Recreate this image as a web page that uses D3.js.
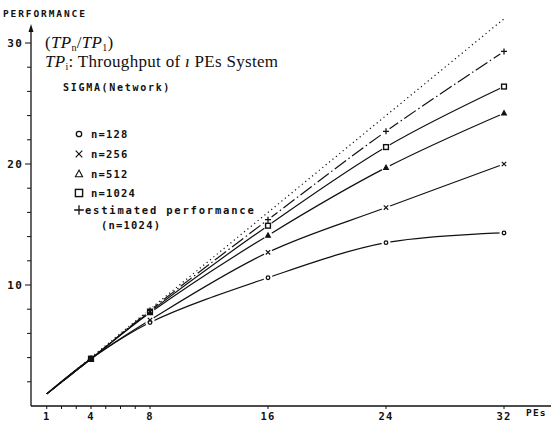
<!DOCTYPE html>
<html>
<head>
<meta charset="utf-8">
<script src="https://cdn.jsdelivr.net/npm/d3@7"></script>
<style>
  body { margin: 0; background: #fff; }
  .mono { font-family: "DejaVu Sans Mono", monospace; font-weight: bold; fill: #111; }
  .serif { font-family: "Liberation Serif", "DejaVu Serif", serif; fill: #111; }
</style>
</head>
<body>
<script>
const pes = [1, 4, 8, 16, 24, 32];
const n128 = [1, 3.9, 6.9, 10.6, 13.5, 14.3];
const n256 = [1, 3.9, 7.1, 12.7, 16.4, 20.0];
const n512 = [1, 3.9, 7.7, 14.1, 19.7, 24.2];
const n1024 = [1, 3.9, 7.8, 14.9, 21.4, 26.4];
const estimated = [1, 3.9, 7.9, 15.4, 22.7, 29.3];
const idealX = [1, 32];
const idealY = [1, 32];
const xTickLabels = [1, 4, 8, 16, 24, 32];
const xMinorTicks = [1, 2, 3, 4, 5, 6, 7, 8, 16, 24, 32];
const yTickLabels = [10, 20, 30];
const legendLabels = ["n=128", "n=256", "n=512", "n=1024", "estimated performance"];

const W = 552, H = 422;
const svg = d3.select("body").append("svg").attr("width", W).attr("height", H);

const x = d3.scaleLinear().domain([0, 32]).range([32, 504]);
const y = d3.scaleLinear().domain([0, 30]).range([406, 43]);

// axes
const ax = svg.append("g").attr("stroke", "#111").attr("stroke-width", 1.3);
ax.append("line").attr("x1", 31).attr("x2", 551).attr("y1", y(0)).attr("y2", y(0));
ax.append("line").attr("x1", 31).attr("x2", 31).attr("y1", y(0)).attr("y2", 28);
svg.append("path").attr("d", "M31,24 L28.5,32 L33.5,32 Z").attr("fill", "#111");

d3.range(2, 32, 2).forEach(v => {
  const major = v % 10 === 0;
  ax.append("line").attr("x1", major ? 25 : 27).attr("x2", 31)
    .attr("y1", y(v)).attr("y2", y(v)).attr("stroke-width", 1);
});
xMinorTicks.forEach(v => {
  ax.append("line").attr("x1", x(v)).attr("x2", x(v))
    .attr("y1", y(0)).attr("y2", y(0) + 3).attr("stroke-width", 1);
});

svg.selectAll(".ytl").data(yTickLabels).join("text")
  .attr("class", "mono").attr("x", 23).attr("y", d => y(d) + 4)
  .attr("text-anchor", "end").attr("font-size", 11).attr("letter-spacing", 1.2)
  .text(d => d);
svg.selectAll(".xtl").data(xTickLabels).join("text")
  .attr("class", "mono").attr("x", d => x(d)).attr("y", 420)
  .attr("text-anchor", "middle").attr("font-size", 10.5).attr("letter-spacing", 1.2)
  .text(d => d);
svg.append("text").attr("class", "mono").attr("x", 526).attr("y", 416)
  .attr("font-size", 9.5).attr("letter-spacing", 1.2).text("PEs");
svg.append("text").attr("class", "mono").attr("x", 3).attr("y", 17)
  .attr("font-size", 9.5).attr("letter-spacing", 1.9).text("PERFORMANCE");

// lines
const line = d3.line().x(d => x(d[0])).y(d => y(d[1])).curve(d3.curveCatmullRom.alpha(0.5));
const series = [
  { vals: n128, sym: "circle" },
  { vals: n256, sym: "x" },
  { vals: n512, sym: "tri" },
  { vals: n1024, sym: "sq" },
  { vals: estimated, sym: "plus", dash: "14,3,1.5,3" }
];
svg.append("path").attr("d", line(idealX.map((v, i) => [v, idealY[i]])))
  .attr("fill", "none").attr("stroke", "#111").attr("stroke-width", 1.2)
  .attr("stroke-dasharray", "1.2,3.2");
series.forEach(s => {
  svg.append("path").attr("d", line(pes.map((p, i) => [p, s.vals[i]])))
    .attr("fill", "none").attr("stroke", "#111").attr("stroke-width", 1.2)
    .attr("stroke-dasharray", s.dash || null);
});

// gaps around markers
series.forEach(s => {
  pes.forEach((p, i) => {
    if (p < 8) return;
    svg.append("circle").attr("cx", x(p)).attr("cy", y(s.vals[i])).attr("r", 4.5).attr("fill", "#fff");
  });
});

function marker(g, sym, cx, cy, size) {
  const k = size;
  if (sym === "circle") g.append("circle").attr("cx", cx).attr("cy", cy).attr("r", 1.8 * k)
    .attr("fill", "none").attr("stroke", "#111").attr("stroke-width", 1.3);
  if (sym === "x") g.append("path").attr("d", `M${cx - 2.2 * k},${cy - 2.2 * k}L${cx + 2.2 * k},${cy + 2.2 * k}M${cx + 2.2 * k},${cy - 2.2 * k}L${cx - 2.2 * k},${cy + 2.2 * k}`)
    .attr("stroke", "#111").attr("stroke-width", 1.2);
  if (sym === "tri") g.append("path").attr("d", `M${cx},${cy - 2.6 * k}L${cx + 2.4 * k},${cy + 1.8 * k}L${cx - 2.4 * k},${cy + 1.8 * k}Z`)
    .attr("fill", k > 1 ? "none" : "#111").attr("stroke", "#111").attr("stroke-width", 1.1);
  if (sym === "sq") g.append("rect").attr("x", cx - 2.4 * k).attr("y", cy - 2.4 * k)
    .attr("width", 4.8 * k).attr("height", 4.8 * k).attr("fill", "none").attr("stroke", "#111").attr("stroke-width", 1.4);
  if (sym === "plus") g.append("path").attr("d", `M${cx - 3 * k},${cy}L${cx + 3 * k},${cy}M${cx},${cy - 3 * k}L${cx},${cy + 3 * k}`)
    .attr("stroke", "#111").attr("stroke-width", 1.3);
}
const mk = svg.append("g");
series.forEach(s => {
  pes.forEach((p, i) => {
    if (p < 4) return;
    marker(mk, s.sym, x(p), y(s.vals[i]), 1);
  });
});
mk.append("rect").attr("x", x(4) - 3).attr("y", y(3.9) - 3).attr("width", 6).attr("height", 6).attr("fill", "#111");

// title
const t1 = svg.append("text").attr("class", "serif").attr("x", 45).attr("y", 48)
  .attr("font-size", 17).attr("letter-spacing", 0.3);
t1.append("tspan").text("(");
t1.append("tspan").attr("font-style", "italic").text("TP");
t1.append("tspan").attr("font-size", 10).attr("dy", 3).text("n");
t1.append("tspan").attr("dy", -3).text("/");
t1.append("tspan").attr("font-style", "italic").text("TP");
t1.append("tspan").attr("font-size", 10).attr("dy", 3).text("1");
t1.append("tspan").attr("dy", -3).text(")");
const t2 = svg.append("text").attr("class", "serif").attr("x", 45).attr("y", 67)
  .attr("font-size", 17).attr("letter-spacing", 0.3);
t2.append("tspan").attr("font-style", "italic").text("TP");
t2.append("tspan").attr("font-size", 10).attr("dy", 3).text("i");
t2.append("tspan").attr("dy", -3).text(": Throughput of ");
t2.append("tspan").attr("font-style", "italic").text("ı");
t2.append("tspan").text(" PEs System");

svg.append("text").attr("class", "mono").attr("x", 63).attr("y", 91)
  .attr("font-size", 10).attr("letter-spacing", 1.7).text("SIGMA(Network)");

// legend
const legY = [134, 154, 174, 193, 210];
series.forEach((s, i) => {
  marker(svg, s.sym, 79, legY[i], s.sym === "plus" ? 1.6 : 1.5);
  svg.append("text").attr("class", "mono").attr("x", s.sym === "plus" ? 85 : 91)
    .attr("y", legY[i] + 4).attr("font-size", 10.5).attr("letter-spacing", s.sym === "plus" ? 1.8 : 1.2)
    .text(legendLabels[i]);
});
svg.append("text").attr("class", "mono").attr("x", 101).attr("y", 229)
  .attr("font-size", 10.5).attr("letter-spacing", 1.2).text("(n=1024)");
</script>
</body>
</html>
